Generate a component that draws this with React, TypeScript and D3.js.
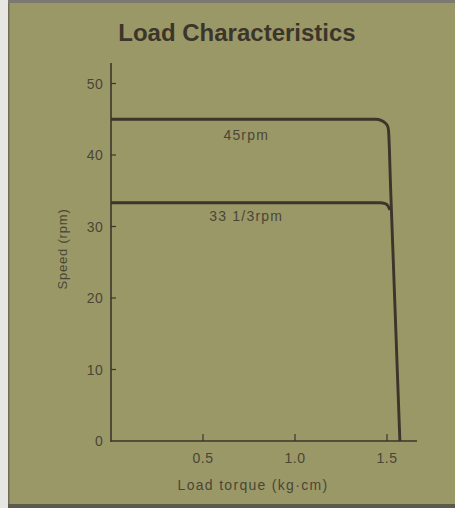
import React from "react";
import * as d3 from "d3";

const xTicks = [0.5, 1.0, 1.5];
const xTickLabels = ["0.5", "1.0", "1.5"];
const yTicks = [0, 10, 20, 30, 40, 50];
const torque45 = [0, 1.44, 1.467, 1.489, 1.503, 1.508, 1.52, 1.545, 1.57];
const speed45 = [45, 45, 44.85, 44.5, 44.05, 43.5, 35.1, 17.6, 0];
const torque33 = [0, 1.462, 1.49, 1.505, 1.516];
const speed33 = [33.33, 33.33, 33.2, 32.9, 32.3];
const labels = [
  { text: "45rpm", x: 0.735, y: 45, dy: 21 },
  { text: "33 1/3rpm", x: 0.735, y: 33.33, dy: 18 },
];

export default function App() {
  const W = 455, H = 508;
  const x = d3.scaleLinear().domain([0, 0.5]).range([111, 203]);
  const y = d3.scaleLinear().domain([0, 50]).range([441, 83.5]);
  const line = d3
    .line<[number, number]>()
    .x((d) => x(d[0]))
    .y((d) => y(d[1]))
    .curve(d3.curveMonotoneX);
  const p45 = line(torque45.map((t, i) => [t, speed45[i]] as [number, number])) || "";
  const p33 = line(torque33.map((t, i) => [t, speed33[i]] as [number, number])) || "";
  const ink = "#3b352a";
  const txt = "#4a4636";
  const font = "Liberation Sans, Arial, sans-serif";
  const x0 = x(0), yb = y(0);
  return (
    <svg
      width={W}
      height={H}
      style={{ position: "absolute", left: 0, top: 0, display: "block" }}
      fontFamily={font}
    >
      <rect x={0} y={0} width={W} height={H} fill="#9b9868" />
      <rect x={0} y={0} width={8} height={H} fill="#e6e6e2" />
      <rect x={8} y={0} width={1.5} height={H} fill="#6f6c58" />
      <rect x={8} y={0} width={W} height={3} fill="#7c7a70" />
      <rect x={8} y={504} width={W} height={4} fill="#5c5a4c" />
      <text x={237} y={41} textAnchor="middle" fontSize={24} fontWeight="bold" fill={ink}>
        Load Characteristics
      </text>
      {/* axes */}
      <line x1={x0} y1={63} x2={x0} y2={yb + 1} stroke={ink} strokeWidth={1.6} />
      <line x1={x0} y1={yb} x2={417} y2={yb} stroke={ink} strokeWidth={1.6} />
      {yTicks.map((t) => (
        <g key={t}>
          {t > 0 && <line x1={x0} x2={x0 + 5} y1={y(t)} y2={y(t)} stroke={ink} strokeWidth={1.2} />}
          <text x={103} y={y(t)} dy="0.36em" textAnchor="end" fontSize={14} letterSpacing={0.3} fill={txt}>
            {t}
          </text>
        </g>
      ))}
      {xTicks.map((t, i) => (
        <g key={t}>
          <line x1={x(t)} x2={x(t)} y1={yb} y2={yb - 7} stroke={ink} strokeWidth={1.2} />
          <text x={x(t)} y={yb + 22} textAnchor="middle" fontSize={14} letterSpacing={0.5} fill={txt}>
            {xTickLabels[i]}
          </text>
        </g>
      ))}
      <text x={253} y={490} textAnchor="middle" fontSize={14} letterSpacing={1.3} fill={txt}>
        Load torque (kg·cm)
      </text>
      <text
        transform={`translate(67,249) rotate(-90)`}
        textAnchor="middle"
        fontSize={13}
        letterSpacing={0.8}
        fill={txt}
      >
        Speed (rpm)
      </text>
      <path d={p45} fill="none" stroke={ink} strokeWidth={2.9} strokeLinejoin="round" />
      <path d={p33} fill="none" stroke={ink} strokeWidth={2.9} strokeLinejoin="round" />
      {labels.map((l) => (
        <text key={l.text} x={x(l.x)} y={y(l.y) + l.dy} textAnchor="middle" fontSize={14} letterSpacing={1.2} fill={txt}>
          {l.text}
        </text>
      ))}
    </svg>
  );
}
